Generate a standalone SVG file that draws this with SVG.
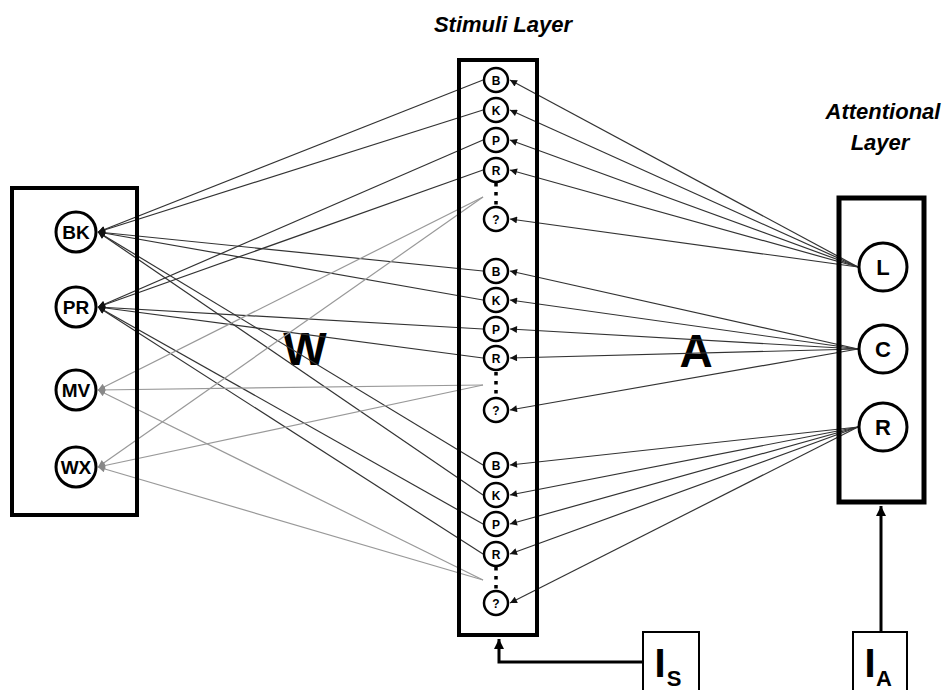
<svg xmlns="http://www.w3.org/2000/svg" width="943" height="690" viewBox="0 0 943 690">
<style>
text{font-family:"Liberation Sans",Arial,sans-serif;font-weight:bold;fill:#000}
.title{font-style:italic;font-size:22px}
.big{font-size:46px}
.sn circle{fill:#fff;stroke:#000;stroke-width:2.5}
.sn text{font-size:12px;text-anchor:middle}
.ln circle{fill:#fff;stroke:#000;stroke-width:3}
.ln text{font-size:19px;text-anchor:middle}
.an circle{fill:#fff;stroke:#000;stroke-width:3}
.an text{font-size:22px;text-anchor:middle}
.dots{stroke:#000;stroke-width:3.5;stroke-dasharray:3.5 5.5}
.layer{fill:none;stroke:#000}
.dark{stroke:#333;stroke-width:1.2;fill:none;marker-end:url(#ad)}
.grey{stroke:#999;stroke-width:1.2;fill:none;marker-end:url(#ag)}
.att{stroke:#333;stroke-width:1.2;fill:none;marker-end:url(#ad)}
.inp{stroke:#000;stroke-width:3;fill:none;marker-end:url(#ab)}
.ibox{fill:#fff;stroke:#000;stroke-width:2}
</style>
<defs>
<marker id="ad" viewBox="0 0 10 10" refX="10" refY="5" markerWidth="9" markerHeight="7" markerUnits="userSpaceOnUse" orient="auto"><path d="M0,0L10,5L0,10z" fill="#111"/></marker>
<marker id="ag" viewBox="0 0 10 10" refX="10" refY="5" markerWidth="9" markerHeight="7" markerUnits="userSpaceOnUse" orient="auto"><path d="M0,0L10,5L0,10z" fill="#888"/></marker>
<marker id="ab" viewBox="0 0 10 10" refX="10" refY="5" markerWidth="13" markerHeight="10" markerUnits="userSpaceOnUse" orient="auto"><path d="M0,0L10,5L0,10z" fill="#000"/></marker>
</defs>
<rect width="943" height="690" fill="#fff"/>

<g id="titles">
<text class="title" x="503" y="32" text-anchor="middle">Stimuli Layer</text>
<text class="title" x="883" y="119" text-anchor="middle">Attentional</text>
<text class="title" x="880" y="150" text-anchor="middle">Layer</text>
<text class="big" x="305" y="365" text-anchor="middle">W</text>
<text class="big" x="696" y="367" text-anchor="middle" font-size="49">A</text>
</g>

<g id="connectors">
<line class="dark" x1="483" y1="80" x2="98" y2="232"/>
<line class="dark" x1="483" y1="110" x2="98" y2="232"/>
<line class="dark" x1="483" y1="271" x2="98" y2="232"/>
<line class="dark" x1="483" y1="300" x2="98" y2="232"/>
<line class="dark" x1="483" y1="465" x2="98" y2="232"/>
<line class="dark" x1="483" y1="495" x2="98" y2="232"/>
<line class="dark" x1="483" y1="140" x2="98" y2="307"/>
<line class="dark" x1="483" y1="170" x2="98" y2="307"/>
<line class="dark" x1="483" y1="329" x2="98" y2="307"/>
<line class="dark" x1="483" y1="358" x2="98" y2="307"/>
<line class="dark" x1="483" y1="524" x2="98" y2="307"/>
<line class="dark" x1="483" y1="554" x2="98" y2="307"/>
<line class="grey" x1="483" y1="197" x2="98" y2="390"/>
<line class="grey" x1="483" y1="385" x2="98" y2="390"/>
<line class="grey" x1="483" y1="580" x2="98" y2="390"/>
<line class="grey" x1="483" y1="197" x2="98" y2="467"/>
<line class="grey" x1="483" y1="385" x2="98" y2="467"/>
<line class="grey" x1="483" y1="580" x2="98" y2="467"/>
<line class="att" x1="858" y1="267" x2="510" y2="80"/>
<line class="att" x1="858" y1="267" x2="510" y2="110"/>
<line class="att" x1="858" y1="267" x2="510" y2="140"/>
<line class="att" x1="858" y1="267" x2="510" y2="170"/>
<line class="att" x1="858" y1="267" x2="510" y2="219"/>
<line class="att" x1="858" y1="349" x2="510" y2="271"/>
<line class="att" x1="858" y1="349" x2="510" y2="300"/>
<line class="att" x1="858" y1="349" x2="510" y2="329"/>
<line class="att" x1="858" y1="349" x2="510" y2="358"/>
<line class="att" x1="858" y1="349" x2="510" y2="410"/>
<line class="att" x1="858" y1="427" x2="510" y2="465"/>
<line class="att" x1="858" y1="427" x2="510" y2="495"/>
<line class="att" x1="858" y1="427" x2="510" y2="524"/>
<line class="att" x1="858" y1="427" x2="510" y2="554"/>
<line class="att" x1="858" y1="427" x2="510" y2="603"/>
<path class="inp" d="M643,662H499V639"/>
<path class="inp" d="M881,632V506"/>
</g>

<g id="stimuli-layer">
<rect class="layer" x="459" y="60" width="78" height="575" stroke-width="4"/>
</g>
<g id="stim-B1" class="sn"><circle cx="496" cy="80" r="12"/><text x="496" y="84.5">B</text></g>
<g id="stim-K1" class="sn"><circle cx="496" cy="110" r="12"/><text x="496" y="114.5">K</text></g>
<g id="stim-P1" class="sn"><circle cx="496" cy="140" r="12"/><text x="496" y="144.5">P</text></g>
<g id="stim-R1" class="sn"><circle cx="496" cy="170" r="12"/><text x="496" y="174.5">R</text></g>
<g id="stim-dots1"><line class="dots" x1="496" y1="183" x2="496" y2="206"/></g>
<g id="stim-Q1" class="sn"><circle cx="496" cy="219" r="12"/><text x="496" y="223.5">?</text></g>

<g id="stim-B2" class="sn"><circle cx="496" cy="271" r="12"/><text x="496" y="275.5">B</text></g>
<g id="stim-K2" class="sn"><circle cx="496" cy="300" r="12"/><text x="496" y="304.5">K</text></g>
<g id="stim-P2" class="sn"><circle cx="496" cy="329" r="12"/><text x="496" y="333.5">P</text></g>
<g id="stim-R2" class="sn"><circle cx="496" cy="358" r="12"/><text x="496" y="362.5">R</text></g>
<g id="stim-dots2"><line class="dots" x1="496" y1="372" x2="496" y2="397"/></g>
<g id="stim-Q2" class="sn"><circle cx="496" cy="410" r="12"/><text x="496" y="414.5">?</text></g>

<g id="stim-B3" class="sn"><circle cx="496" cy="465" r="12"/><text x="496" y="469.5">B</text></g>
<g id="stim-K3" class="sn"><circle cx="496" cy="495" r="12"/><text x="496" y="499.5">K</text></g>
<g id="stim-P3" class="sn"><circle cx="496" cy="524" r="12"/><text x="496" y="528.5">P</text></g>
<g id="stim-R3" class="sn"><circle cx="496" cy="554" r="12"/><text x="496" y="558.5">R</text></g>
<g id="stim-dots3"><line class="dots" x1="496" y1="567" x2="496" y2="590"/></g>
<g id="stim-Q3" class="sn"><circle cx="496" cy="603" r="12"/><text x="496" y="607.5">?</text></g>

<g id="left-layer">
<rect class="layer" x="12" y="188" width="125" height="327" stroke-width="4"/>
</g>
<g id="node-BK" class="ln"><circle cx="76" cy="232" r="20"/><text x="76" y="239">BK</text></g>
<g id="node-PR" class="ln"><circle cx="76" cy="307" r="20"/><text x="76" y="314">PR</text></g>
<g id="node-MV" class="ln"><circle cx="76" cy="390" r="20"/><text x="76" y="397">MV</text></g>
<g id="node-WX" class="ln"><circle cx="76" cy="467" r="20"/><text x="76" y="474">WX</text></g>

<g id="attentional-layer">
<rect class="layer" x="839" y="198" width="85" height="304" stroke-width="5"/>
</g>
<g id="node-L" class="an"><circle cx="883" cy="267" r="24"/><text x="883" y="275">L</text></g>
<g id="node-C" class="an"><circle cx="883" cy="349" r="24"/><text x="883" y="357">C</text></g>
<g id="node-R" class="an"><circle cx="883" cy="427" r="24"/><text x="883" y="435">R</text></g>

<g id="input-S">
<rect class="ibox" x="643" y="632" width="56" height="70"/>
<text x="660" y="677" font-size="40" text-anchor="middle">I</text>
<text x="674" y="686" font-size="22" text-anchor="middle">S</text>
</g>
<g id="input-A">
<rect class="ibox" x="853" y="632" width="54" height="70"/>
<text x="870" y="677" font-size="40" text-anchor="middle">I</text>
<text x="884" y="686" font-size="22" text-anchor="middle">A</text>
</g>
</svg>
